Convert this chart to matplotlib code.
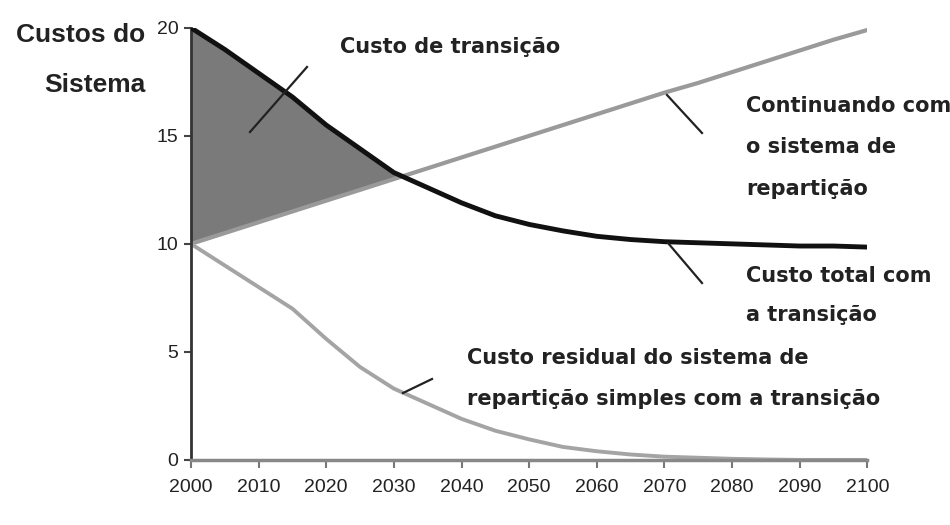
import numpy as np
import matplotlib.pyplot as plt

# anos e curvas (de 5 em 5 anos)
anos = [2000, 2005, 2010, 2015, 2020, 2025, 2030, 2035, 2040, 2045, 2050,
        2055, 2060, 2065, 2070, 2075, 2080, 2085, 2090, 2095, 2100]
custo_total = [20.0, 19.0, 17.9, 16.8, 15.5, 14.4, 13.3, 12.6, 11.9, 11.3, 10.9,
               10.6, 10.35, 10.2, 10.1, 10.05, 10.0, 9.95, 9.9, 9.9, 9.85]
continuando = [10.0, 10.5, 11.0, 11.5, 12.0, 12.5, 13.0, 13.5, 14.0, 14.5, 15.0,
               15.5, 16.0, 16.5, 17.0, 17.45, 17.95, 18.45, 18.95, 19.45, 19.9]
custo_residual = [10.0, 9.0, 8.0, 7.0, 5.6, 4.3, 3.3, 2.6, 1.9, 1.35, 0.95,
                  0.6, 0.4, 0.25, 0.15, 0.1, 0.05, 0.02, 0.0, 0.0, 0.0]
x_ticks = [2000, 2010, 2020, 2030, 2040, 2050, 2060, 2070, 2080, 2090, 2100]
y_ticks = [0, 5, 10, 15, 20]

TICKFONT = ['Liberation Sans Narrow', 'Liberation Sans', 'DejaVu Sans']
TITLEFONT = ['Liberation Sans', 'DejaVu Sans']
ANNFONT = ['DejaVu Sans']

fig = plt.figure(figsize=(9.5, 5.25), dpi=100)
ax = fig.add_axes([0.201, 0.124, 0.712, 0.823])

# área do custo de transição (entre custo total e continuação)
xf = np.linspace(2000, 2100, 401)
tot_i = np.interp(xf, anos, custo_total)
cont_i = np.interp(xf, anos, continuando)
ax.fill_between(xf, cont_i, tot_i, where=tot_i >= cont_i, interpolate=True,
                color='#7a7a7a', lw=0, zorder=1)

ax.plot(anos, continuando, color='#9a9a9a', lw=3, zorder=2)
ax.plot(anos, custo_residual, color='#a4a4a4', lw=2.8, zorder=2)
ax.plot(anos, custo_total, color='#111111', lw=3.5, zorder=3)

ax.set_xlim(2000, 2100)
ax.set_ylim(0, 20)
ax.set_xticks(x_ticks)
ax.set_yticks(y_ticks)
for s in ['top', 'right']:
    ax.spines[s].set_visible(False)
ax.spines['left'].set_color('#333333')
ax.spines['left'].set_linewidth(2)
ax.spines['bottom'].set_color('#888888')
ax.spines['bottom'].set_linewidth(2.5)
ax.tick_params(axis='x', length=6, width=1.5, color='#777777', pad=8)
ax.tick_params(axis='y', length=5, width=1.5, color='#444444', pad=4)
for lab in ax.get_xticklabels() + ax.get_yticklabels():
    lab.set_family(TICKFONT)
    lab.set_fontsize(14)
    lab.set_color('#222222')


def px(x, y):
    # coordenadas em pixels da imagem -> coordenadas da figura
    return (x / 950, 1 - y / 525)


def seta(x0, y0, x1, y1):
    fig.add_artist(plt.Line2D([x0 / 950, x1 / 950], [1 - y0 / 525, 1 - y1 / 525],
                              color='#222222', lw=1.6))


# título do eixo y
tt = dict(fontsize=19, fontweight='bold', family=TITLEFONT, color='#222222',
          va='baseline', ha='right')
fig.text(*px(145, 42), 'Custos do', **tt)
fig.text(*px(145, 92), 'Sistema', **tt)

tk = dict(fontsize=15, fontweight='bold', family=ANNFONT, color='#222222',
          va='baseline', ha='left')

fig.text(*px(340, 53), 'Custo de transição', **tk)
seta(250, 132, 307, 67)

fig.text(*px(746, 112), 'Continuando com', **tk)
fig.text(*px(746, 153), 'o sistema de', **tk)
fig.text(*px(746, 195), 'repartição', **tk)
seta(667, 95, 702, 133)

fig.text(*px(746, 282), 'Custo total com', **tk)
fig.text(*px(746, 321), 'a transição', **tk)
seta(668, 243, 702, 283)

fig.text(*px(467, 364), 'Custo residual do sistema de', **tk)
fig.text(*px(467, 405), 'repartição simples com a transição', **tk)
seta(403, 393, 432, 379)

fig.savefig('out.png', dpi=100)
